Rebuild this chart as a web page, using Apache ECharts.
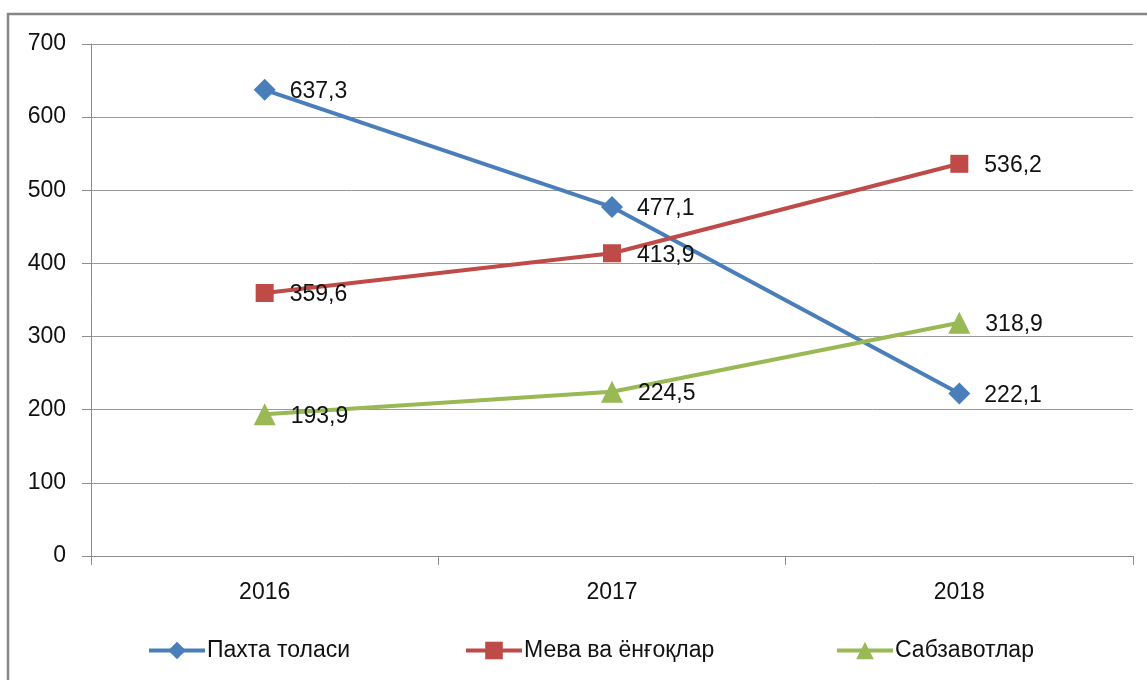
<!DOCTYPE html>
<html>
<head>
<meta charset="utf-8">
<script src="https://cdn.jsdelivr.net/npm/echarts@6/dist/echarts.min.js"></script>
<style>
html,body{margin:0;padding:0;background:#fff;}
#chart{width:1147px;height:680px;}
</style>
</head>
<body>
<div id="chart"></div>
<script>
const categories = ['2016', '2017', '2018'];
const seriesNames = ['Пахта толаси', 'Мева ва ёнғоқлар', 'Сабзавотлар'];
const cotton = [637.3, 477.1, 222.1];
const fruits = [359.6, 413.9, 536.2];
const vegetables = [193.9, 224.5, 318.9];
const yTicks = [0, 100, 200, 300, 400, 500, 600, 700];

const FONT = 'Liberation Sans';
const TEXT = '#111111';
const colors = ['#4A7EBB', '#BE4B48', '#98B954'];
const symbols = ['diamond', 'rect', 'triangle'];
const symbolSizes = [22, 18, 22];
const labelDist = [14, 16, 15];
const dataSets = [cotton, fruits, vegetables];

const chart = echarts.init(document.getElementById('chart'), null, {renderer: 'canvas'});

const series = seriesNames.map((name, i) => ({
  name: name,
  type: 'line',
  data: dataSets[i],
  symbol: symbols[i],
  symbolSize: symbolSizes[i],
  showAllSymbol: true,
  lineStyle: {color: colors[i], width: 4},
  itemStyle: {color: colors[i]},
  label: {
    show: true,
    position: 'right',
    distance: labelDist[i],
    offset: [0, 2],
    color: TEXT,
    fontFamily: FONT,
    fontSize: 23,
    formatter: p => String(p.value).replace('.', ',')
  },
  emphasis: {disabled: true},
  animation: false
}));

const legendLefts = [142, 459, 830];

chart.setOption({
  backgroundColor: '#ffffff',
  animation: false,
  graphic: [{
    type: 'rect',
    shape: {x: 8, y: 14, width: 1160, height: 700},
    style: {fill: 'none', stroke: '#878787', lineWidth: 2.5},
    z: -10
  }],
  grid: {left: 91, right: 14, top: 44, bottom: 124, containLabel: false},
  legend: seriesNames.map((n, i) => ({
    data: [n],
    left: legendLefts[i],
    top: 634,
    itemWidth: 56,
    itemHeight: 22,
    itemGap: 4,
    lineStyle: {width: 4},
    textStyle: {fontFamily: FONT, fontSize: 23, color: TEXT, padding: [0, 0, 0, -3]},
    selectedMode: false
  })),
  xAxis: {
    type: 'category',
    data: categories,
    boundaryGap: true,
    axisLine: {show: true, lineStyle: {color: '#8c8c8c', width: 1}},
    axisTick: {show: true, length: 9, alignWithLabel: false, lineStyle: {color: '#8c8c8c'}},
    axisLabel: {fontFamily: FONT, fontSize: 23, color: TEXT, margin: 25},
    splitLine: {show: false}
  },
  yAxis: {
    type: 'value',
    min: yTicks[0],
    max: yTicks[yTicks.length - 1],
    interval: 100,
    axisLine: {show: true, lineStyle: {color: '#8c8c8c', width: 1}},
    axisTick: {show: true, length: 9, lineStyle: {color: '#8c8c8c'}},
    axisLabel: {fontFamily: FONT, fontSize: 23, color: TEXT, margin: 25},
    splitLine: {show: true, lineStyle: {color: '#9a9a9a', width: 1}}
  },
  series: series
});
</script>
</body>
</html>
